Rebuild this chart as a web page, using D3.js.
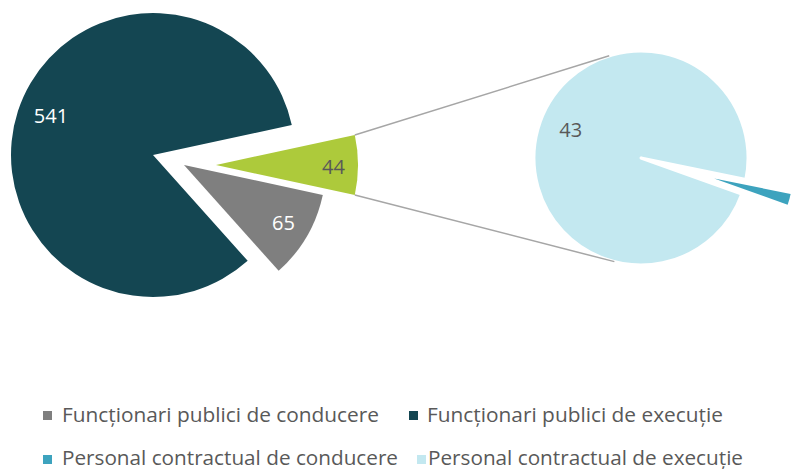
<!DOCTYPE html>
<html>
<head>
<meta charset="utf-8">
<script src="https://cdn.jsdelivr.net/npm/d3@7"></script>
<style>
  body { margin: 0; background: #fff; }
  svg { display: block; font-family: "Open Sans", sans-serif; }
</style>
</head>
<body>
<svg id="chart" width="799" height="469"></svg>
<script>
// date: plăcinta principală (ultima felie "Alte" = suma celor din plăcinta secundară)
var mainCategories = ["Alte", "Funcționari publici de conducere", "Funcționari publici de execuție"];
var mainValues = [44, 65, 541];

var subCategories = ["Personal contractual de conducere", "Personal contractual de execuție"];
var subValues = [1, 43];

var legendLabels = [
  "Funcționari publici de conducere",
  "Funcționari publici de execuție",
  "Personal contractual de conducere",
  "Personal contractual de execuție"
];

var svg = d3.select("#chart"),
    deg = Math.PI / 180;

var color = d3.scaleOrdinal()
    .domain(["Alte"].concat(legendLabels))
    .range(["#adca3b", "#7f7f7f", "#144652", "#3da3be", "#c3e8f0"]);

// culoarea etichetelor
var labelColor = d3.scaleOrdinal()
    .domain(["Alte"].concat(legendLabels))
    .range(["#595959", "#ffffff", "#ffffff", "#595959", "#595959"]);

// --- plăcinta principală ---
var mainC = [153, 155], mainR = 142;
// deplasare (explode) pentru fiecare felie, in px
var mainExplode = { "Alte": [63, 10], "Funcționari publici de conducere": [31, 10], "Funcționari publici de execuție": [0, 0] };
var mainLabelR = { "Alte": 0.82, "Funcționari publici de conducere": 0.81, "Funcționari publici de execuție": 0.77 };
var mainLabelNudge = { "Alte": [1, 2], "Funcționari publici de conducere": [0, 0], "Funcționari publici de execuție": [2, -5] };

var total = d3.sum(mainValues),
    s0 = Math.PI / 2 - Math.PI * mainValues[0] / total;

var mainPie = d3.pie().sort(null).value(function(d){ return d.value; })
    .startAngle(s0).endAngle(s0 + 2 * Math.PI);

var mainData = mainPie(mainCategories.map(function(c, i){ return { cat: c, value: mainValues[i] }; }));

var arcMain = d3.arc().innerRadius(0).outerRadius(mainR);

var gMain = svg.append("g");
var slices = gMain.selectAll("g.slice").data(mainData).enter()
    .append("g")
    .attr("class", "slice")
    .attr("transform", function(d){
        var o = mainExplode[d.data.cat];
        return "translate(" + (mainC[0] + o[0]) + "," + (mainC[1] + o[1]) + ")";
    });

slices.append("path")
    .attr("d", arcMain)
    .attr("fill", function(d){ return color(d.data.cat); });

slices.append("text")
    .attr("transform", function(d){
        var lr = mainR * mainLabelR[d.data.cat], n = mainLabelNudge[d.data.cat];
        var c = d3.arc().innerRadius(lr).outerRadius(lr).centroid(d);
        return "translate(" + (c[0] + n[0]) + "," + (c[1] + n[1]) + ")";
    })
    .attr("text-anchor", "middle")
    .attr("dy", "0.35em")
    .style("font-size", "20px")
    .attr("fill", function(d){ return labelColor(d.data.cat); })
    .text(function(d){ return d.data.value; });

// --- plăcinta secundară ---
var subC = [641, 158], subR = 107;
var tealBisector = 105.6 * deg;
var subStart = tealBisector - Math.PI * subValues[0] / d3.sum(subValues);

var subPie = d3.pie().sort(null).value(function(d){ return d.value; })
    .startAngle(subStart).endAngle(subStart + 2 * Math.PI);

var subData = subPie(subCategories.map(function(c, i){ return { cat: c, value: subValues[i] }; }));

// felia mică e deplasată și desenată mai scurtă
var subExplode = { "Personal contractual de conducere": 76, "Personal contractual de execuție": 0 };
var subRadius = { "Personal contractual de conducere": 78, "Personal contractual de execuție": subR };
var subLabelR = { "Personal contractual de conducere": 96, "Personal contractual de execuție": 76 };
var subLabelNudge = { "Personal contractual de conducere": [0, 10], "Personal contractual de execuție": [3, -8] };

var gSub = svg.append("g");
var subSlices = gSub.selectAll("g.sub").data(subData).enter()
    .append("g")
    .attr("class", "sub")
    .attr("transform", function(d){
        var a = (d.startAngle + d.endAngle) / 2, e = subExplode[d.data.cat];
        return "translate(" + (subC[0] + e * Math.sin(a)) + "," + (subC[1] - e * Math.cos(a)) + ")";
    });

subSlices.append("path")
    .attr("d", function(d){
        return d3.arc().innerRadius(0).outerRadius(subRadius[d.data.cat])(d);
    })
    .attr("fill", function(d){ return color(d.data.cat); })
    .attr("stroke", function(d){ return d.data.value > 1 ? "#fff" : "none"; })
    .attr("stroke-width", 3)
    .attr("stroke-linejoin", "round");

subSlices.append("text")
    .attr("transform", function(d){
        var lr = subLabelR[d.data.cat], n = subLabelNudge[d.data.cat];
        var c = d3.arc().innerRadius(lr).outerRadius(lr).centroid(d);
        return "translate(" + (c[0] + n[0]) + "," + (c[1] + n[1]) + ")";
    })
    .attr("text-anchor", "middle")
    .attr("dy", "0.35em")
    .style("font-size", "20px")
    .attr("fill", function(d){ return labelColor(d.data.cat); })
    .text(function(d){ return d.data.value; });

// --- liniile de legătură (de la colțurile feliei "Alte" la tangentele cercului secundar) ---
var other = mainData[0],
    oo = mainExplode["Alte"],
    apex = [mainC[0] + oo[0], mainC[1] + oo[1]];

function corner(a){ return [apex[0] + mainR * Math.sin(a), apex[1] - mainR * Math.cos(a)]; }

function tangent(p, side){
    var dx = p[0] - subC[0], dy = p[1] - subC[1],
        d = Math.sqrt(dx * dx + dy * dy),
        base = Math.atan2(dy, dx),
        t = base + side * Math.acos(subR / d);
    return [subC[0] + subR * Math.cos(t), subC[1] + subR * Math.sin(t)];
}

var pTop = corner(other.startAngle), pBot = corner(other.endAngle);
var links = [[pTop, tangent(pTop, 1)], [pBot, tangent(pBot, -1)]];

svg.append("g").selectAll("line").data(links).enter()
    .append("line")
    .attr("x1", function(d){ return d[0][0]; })
    .attr("y1", function(d){ return d[0][1]; })
    .attr("x2", function(d){ return d[1][0]; })
    .attr("y2", function(d){ return d[1][1]; })
    .attr("stroke", "#a6a6a6")
    .attr("stroke-width", 1.5);

// --- legenda ---
var legendPos = [
    { mx: 43, my: 411, tx: 62, ty: 422, w: 317 },
    { mx: 409, my: 411, tx: 427, ty: 422, w: 296 },
    { mx: 43, my: 455, tx: 62, ty: 465, w: 336 },
    { mx: 417, my: 455, tx: 428, ty: 465, w: 315 }
];

var leg = svg.append("g").selectAll("g").data(legendLabels).enter().append("g");

leg.append("rect")
    .attr("x", function(d, i){ return legendPos[i].mx; })
    .attr("y", function(d, i){ return legendPos[i].my; })
    .attr("width", 9)
    .attr("height", 9)
    .attr("fill", function(d){ return color(d); });

leg.append("text")
    .attr("x", function(d, i){ return legendPos[i].tx; })
    .attr("y", function(d, i){ return legendPos[i].ty; })
    .attr("textLength", function(d, i){ return legendPos[i].w; })
    .attr("lengthAdjust", "spacingAndGlyphs")
    .style("font-size", "20px")
    .attr("fill", "#595959")
    .text(function(d){ return d; });
</script>
</body>
</html>
